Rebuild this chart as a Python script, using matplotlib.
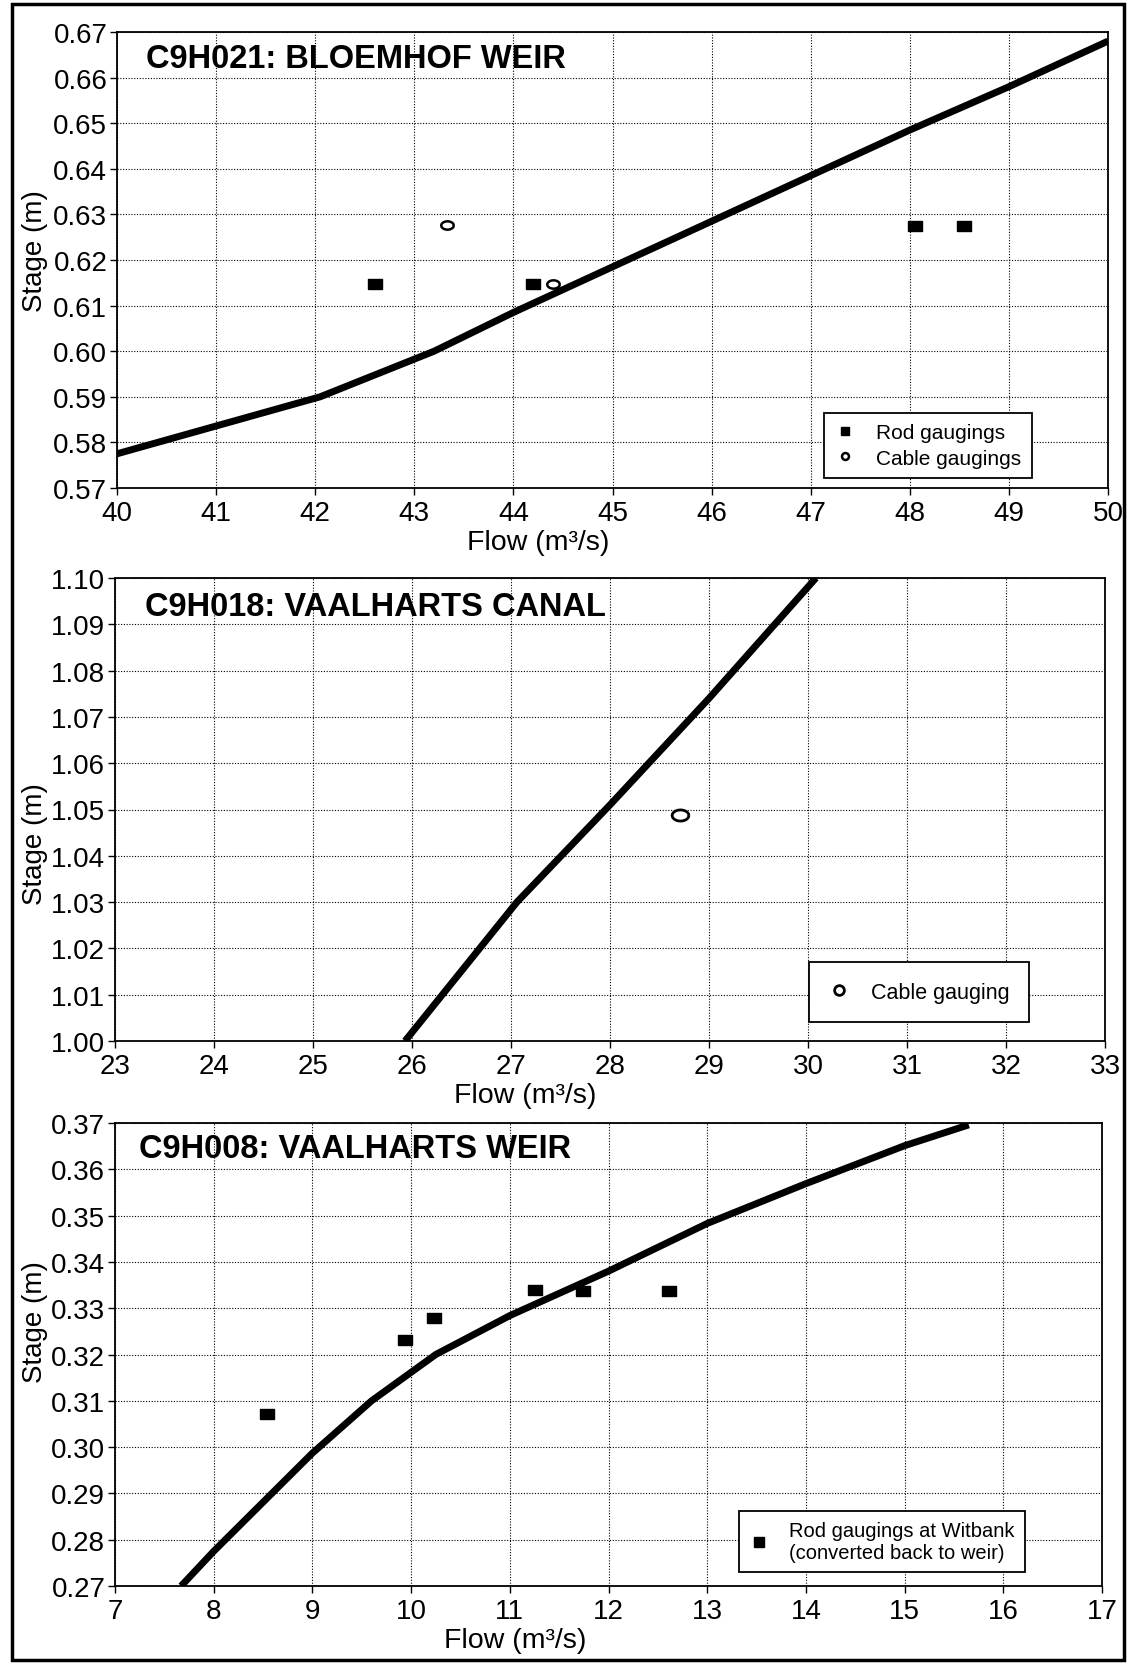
import numpy as np
import matplotlib.pyplot as plt
from matplotlib.ticker import FormatStrFormatter, MultipleLocator
from matplotlib.patches import Rectangle

plt.rcParams['font.family'] = ['Liberation Sans', 'DejaVu Sans']

# C9H021: Bloemhof weir
q1_curve = [40.0, 42.05, 43.2, 44.0, 45.0, 46.0, 47.0, 48.0, 49.0, 50.0]
h1_curve = [0.5775, 0.590, 0.600, 0.6085, 0.6185, 0.6285, 0.6385, 0.6485, 0.658, 0.668]
q1_rod = [42.6, 44.2, 48.05, 48.55]
h1_rod = [0.6147, 0.6147, 0.6275, 0.6275]
q1_cable = [43.33, 44.4]
h1_cable = [0.6277, 0.6147]

# C9H018: Vaalharts canal
q2_curve = [25.93, 27.06, 28.0, 29.0, 30.08]
h2_curve = [1.000, 1.030, 1.051, 1.074, 1.100]
q2_cable = [28.71]
h2_cable = [1.0488]

# C9H008: Vaalharts weir
q3_curve = [7.67, 8.0, 9.0, 9.6, 10.25, 11.0, 12.0, 13.0, 14.0, 15.0, 15.65]
h3_curve = [0.270, 0.2775, 0.2987, 0.310, 0.320, 0.3284, 0.3380, 0.3483, 0.3569, 0.3651, 0.3696]
q3_rod = [8.54, 9.94, 10.23, 11.26, 11.74, 12.61]
h3_rod = [0.3071, 0.3231, 0.3279, 0.3339, 0.3338, 0.3338]

titles = ["C9H021: BLOEMHOF WEIR", "C9H018: VAALHARTS CANAL", "C9H008: VAALHARTS WEIR"]
xlims = [(40, 50), (23, 33), (7, 17)]
ylims = [(0.57, 0.67), (1.00, 1.10), (0.27, 0.37)]

# marker shapes: flat rectangle and flat ellipse
rect = [(-1.5, -1), (1.5, -1), (1.5, 1), (-1.5, 1), (-1.5, -1)]
t = np.linspace(0, 2 * np.pi, 40)
ell = list(zip(1.5 * np.cos(t), np.sin(t)))

W, H = 1129, 1665
fig = plt.figure(figsize=(W / 100, H / 100), dpi=100)

# layout in pixels: axes box (left, right, top, bottom), title spot, label spots, legend corner
boxes = [(117, 1108, 33, 489), (115, 1105, 579, 1042), (115, 1102, 1124, 1587)]
title_xy = [(146, 60), (145, 608), (139, 1149)]
xlab_x = [538, 525, 515]
ylab_y = [251, 844, 1322]
leg_xy = [(1032, 479), (1029, 1023), (1025, 1573)]

def frac(ax_i, x, y):
    l, r, tp, b = boxes[ax_i]
    return (x - l) / (r - l), (b - y) / (b - tp)

axes = []
for (l, r, tp, b) in boxes:
    axes.append(fig.add_axes([l / W, 1 - b / H, (r - l) / W, (b - tp) / H]))

for i, ax in enumerate(axes):
    l, r, tp, b = boxes[i]
    ax.set_xlim(*xlims[i])
    ax.set_ylim(*ylims[i])
    ax.xaxis.set_major_locator(MultipleLocator(1))
    ax.yaxis.set_major_locator(MultipleLocator(0.01))
    ax.yaxis.set_major_formatter(FormatStrFormatter('%.2f'))
    ax.grid(True, color='black', linestyle=(0, (1, 1.5)), linewidth=0.8)
    ax.set_axisbelow(True)
    ax.tick_params(labelsize=20, direction='out', length=5, width=1)
    ax.tick_params(axis='x', pad=3.6)
    ax.tick_params(axis='y', pad=2)
    ax.set_xlabel("Flow (m³/s)", fontsize=20.5)
    ax.set_ylabel("Stage (m)", fontsize=20)
    ax.xaxis.set_label_coords(*frac(i, xlab_x[i], b + 41))
    ax.yaxis.set_label_coords(*frac(i, 48, ylab_y[i]))
    ax.text(*frac(i, *title_xy[i]), titles[i], transform=ax.transAxes, fontsize=23.5,
            fontweight='bold', va='center')
    for s in ax.spines.values():
        s.set_linewidth(1.3)

legkw = dict(loc='lower right', borderaxespad=0, fancybox=False, edgecolor='black',
             framealpha=1, handlelength=1.0, handletextpad=1.0)

# panel 1
ax = axes[0]
ax.plot(q1_curve, h1_curve, color='black', lw=5, solid_capstyle='butt', zorder=3)
ax.plot(q1_rod, h1_rod, ls='none', marker=rect, ms=10, color='black', label='Rod gaugings', zorder=4)
ax.plot(q1_cable, h1_cable, ls='none', marker=ell, ms=9, mfc='white', mec='black', mew=1.8,
        label='Cable gaugings', zorder=4)
leg = ax.legend(bbox_to_anchor=frac(0, *leg_xy[0]), fontsize=15, borderpad=0.5, labelspacing=0.3, **legkw)
leg.get_frame().set_linewidth(1.3)
h_rod, h_cab = leg.legend_handles
h_rod.set_marker('s'); h_rod.set_markersize(6)
h_cab.set_marker('o'); h_cab.set_markersize(5); h_cab.set_markeredgewidth(1.8)

# panel 2
ax = axes[1]
ax.plot(q2_curve, h2_curve, color='black', lw=5, solid_capstyle='butt', zorder=3)
ax.plot(q2_cable, h2_cable, ls='none', marker=ell, ms=12, mfc='white', mec='black', mew=2,
        label='Cable gauging', zorder=4)
leg = ax.legend(bbox_to_anchor=frac(1, *leg_xy[1]), fontsize=15.5, borderpad=0.9, **legkw)
leg.get_frame().set_linewidth(1.3)
h_c = leg.legend_handles[0]
h_c.set_marker('o'); h_c.set_markersize(7); h_c.set_markeredgewidth(2)

# panel 3
ax = axes[2]
ax.plot(q3_curve, h3_curve, color='black', lw=5, solid_capstyle='butt', zorder=3)
ax.plot(q3_rod, h3_rod, ls='none', marker=rect, ms=10, color='black',
        label='Rod gaugings at Witbank\n(converted back to weir)', zorder=4)
leg = ax.legend(bbox_to_anchor=frac(2, *leg_xy[2]), fontsize=14.5, borderpad=0.5, **legkw)
leg.get_frame().set_linewidth(1.3)
h_r = leg.legend_handles[0]
h_r.set_marker('s'); h_r.set_markersize(6.5)

# outer frame
fig.patches.append(Rectangle((12 / W, 4 / H), (1124 - 12) / W, (1660 - 4) / H, transform=fig.transFigure,
                             fill=False, edgecolor='black', linewidth=2.5))

fig.savefig("out.png", dpi=100)
